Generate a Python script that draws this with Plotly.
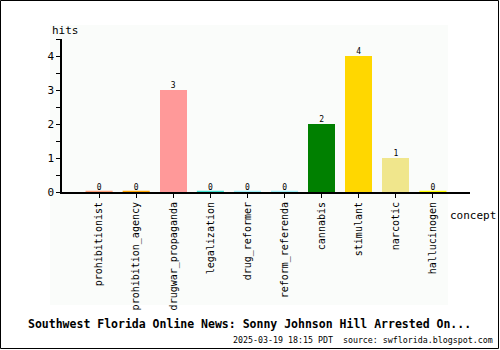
import plotly.graph_objects as go

categories = ["prohibitionist", "prohibition_agency", "drugwar_propaganda", "legalization",
              "drug_reformer", "reform_referenda", "cannabis", "stimulant", "narcotic", "hallucinogen"]
hits = [0, 0, 3, 0, 0, 0, 2, 4, 1, 0]
colors = ["#ffa07a", "#ffa500", "#ff9999", "#40e0d0", "#a0f0f8", "#a0f0f8",
          "#008000", "#ffd700", "#f0e68c", "#ffff00"]
title = "Southwest Florida Online News: Sonny Johnson Hill Arrested On..."
subtitle = "2025-03-19 18:15 PDT  source: swflorida.blogspot.com"

FONT = "DejaVu Sans Mono"
W, H = 500, 350
L, R, T, B = 62, 30, 39, 158
pw, ph = W - L - R, H - T - B

def px_x(p):
    return (p - L) / pw

def px_y(p):
    return (H - B - p) / ph

xs = list(range(len(categories)))
fig = go.Figure()

# off-white panel
fig.add_shape(type="rect", xref="paper", yref="paper", layer="below",
              x0=px_x(50), x1=px_x(448), y0=px_y(305), y1=px_y(25),
              fillcolor="#fafcfa", line=dict(width=0))
# outer border
fig.add_shape(type="rect", xref="paper", yref="paper", layer="above",
              x0=px_x(0.5), x1=px_x(498.5), y0=px_y(348.5), y1=px_y(0.5),
              fillcolor="rgba(0,0,0,0)", line=dict(color="black", width=1))

fig.add_trace(go.Bar(x=xs, y=hits, marker=dict(color=colors, line=dict(width=0)),
                     width=0.73, showlegend=False, hoverinfo="skip"))

# zero-value bars drawn as coloured segments on the axis
for i, (v, c) in enumerate(zip(hits, colors)):
    if v == 0:
        fig.add_trace(go.Scatter(x=[i - 0.365, i + 0.365], y=[v, v], mode="lines",
                                 line=dict(color=c, width=2.5), showlegend=False,
                                 hoverinfo="skip", cliponaxis=False))

fig.add_trace(go.Scatter(x=xs, y=hits, mode="text", text=[str(v) for v in hits],
                         textposition="top center", textfont=dict(family=FONT, size=8, color="black"),
                         showlegend=False, hoverinfo="skip", cliponaxis=False))

fig.update_layout(
    width=W, height=H, margin=dict(l=L, r=R, t=T, b=B),
    paper_bgcolor="white", plot_bgcolor="rgba(0,0,0,0)",
    font=dict(family=FONT, size=10, color="black"),
    bargap=0,
    xaxis=dict(range=[-1, 10], tickvals=xs, ticktext=categories, tickangle=-90,
               showgrid=False, zeroline=False, showline=True, linecolor="black", linewidth=2,
               ticks="outside", ticklen=4, tickcolor="black", tickfont=dict(family=FONT, size=10),
               layer="below traces"),
    yaxis=dict(range=[0, 4.5], tickvals=[0, 1, 2, 3, 4], showgrid=False, zeroline=False,
               showline=True, linecolor="black", linewidth=1.5, ticks="outside", ticklen=4,
               tickcolor="black", tickfont=dict(family=FONT, size=11),
               minor=dict(tickvals=[0.5, 1.5, 2.5, 3.5, 4.5], ticks="outside", ticklen=4, tickcolor="black")),
    annotations=[
        dict(text="hits", xref="paper", yref="paper", x=px_x(50), y=px_y(30), xanchor="left",
             yanchor="middle", showarrow=False, font=dict(family=FONT, size=11)),
        dict(text="concept", xref="paper", yref="paper", x=px_x(448), y=px_y(216), xanchor="left",
             yanchor="middle", showarrow=False, font=dict(family=FONT, size=11)),
        dict(text="<b>" + title + "</b>", xref="paper", yref="paper", x=px_x(249), y=px_y(324),
             xanchor="center", yanchor="middle", showarrow=False, font=dict(family=FONT, size=11.5)),
        dict(text=subtitle, xref="paper", yref="paper", x=px_x(495), y=px_y(340),
             xanchor="right", yanchor="middle", showarrow=False, font=dict(family=FONT, size=8.3)),
    ],
)

fig.write_html("out.html")
